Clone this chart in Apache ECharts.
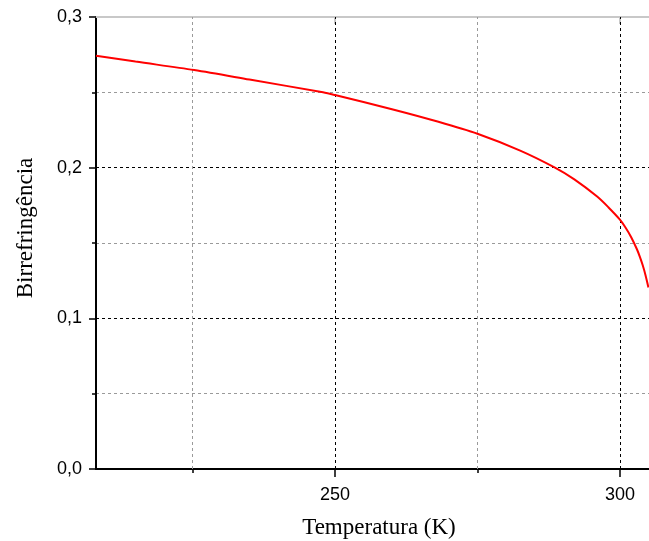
<!DOCTYPE html>
<html>
<head>
<meta charset="utf-8">
<script src="https://cdn.jsdelivr.net/npm/echarts@6/dist/echarts.min.js"></script>
<style>
  html, body { margin: 0; padding: 0; background: #fff; }
  #chart { width: 649px; height: 541px; }
</style>
</head>
<body>
<div id="chart"></div>
<script>
// Birefringence versus temperature
const temperatures = [208.07, 215, 225.3, 235, 247.9, 250, 260, 268, 275, 282.5, 288.6, 292, 296, 298, 300, 301, 302, 303, 303.5, 304, 304.5, 305.0];
const birefringence = [0.2743, 0.2704, 0.2648, 0.2585, 0.2500, 0.2482, 0.2388, 0.2306, 0.2225, 0.2113, 0.2000, 0.1922, 0.1808, 0.1736, 0.1655, 0.1601, 0.1537, 0.1457, 0.1408, 0.1352, 0.1285, 0.1205];

const xRange = [208.07, 305.1];
const xMajorTicks = [250, 300];
const xMinorTicks = [225, 275];
const yRange = [0, 0.3];
const yStep = 0.1;

const xTitle = 'Temperatura (K)';
const yTitle = 'Birrefringência';

const fmt = v => v.toFixed(1).replace('.', ',');
const labelFont = { fontFamily: '"Liberation Sans", Arial, sans-serif', fontSize: 18, color: '#000' };
const titleFont = { fontFamily: '"Liberation Serif", "Times New Roman", serif', fontSize: 23, color: '#000' };

const chart = echarts.init(document.getElementById('chart'), null, { renderer: 'canvas' });

const gridLines = [
  ...xMajorTicks.map(v => ({ xAxis: v, lineStyle: { color: '#000', type: [3, 3], width: 1 } })),
  ...xMinorTicks.map(v => ({ xAxis: v, lineStyle: { color: '#9a9a9a', type: [3, 3], width: 1 } }))
];

chart.setOption({
  animation: false,
  backgroundColor: '#fff',
  grid: { left: 96, right: 0, top: 17, bottom: 72, containLabel: false, outerBoundsMode: 'none' },
  xAxis: [
    {
      type: 'value', position: 'bottom', min: xRange[0], max: xRange[1],
      name: xTitle, nameLocation: 'middle', nameGap: 47,
      nameTextStyle: Object.assign({ padding: [0, 0, 0, 13] }, titleFont),
      axisLine: { show: true, onZero: false, lineStyle: { color: '#000', width: 2 } },
      axisTick: { show: true, inside: false, length: 8, customValues: xMajorTicks, lineStyle: { color: '#000', width: 1.5 } },
      axisLabel: Object.assign({ customValues: xMajorTicks, margin: 17, formatter: v => String(v) }, labelFont),
      splitLine: { show: false }
    },
    {
      type: 'value', position: 'bottom', min: xRange[0], max: xRange[1],
      axisLine: { show: false },
      axisTick: { show: true, inside: false, length: 4, customValues: xMinorTicks, lineStyle: { color: '#000', width: 1.5 } },
      axisLabel: { show: false },
      splitLine: { show: false }
    },
    {
      type: 'value', position: 'top', min: xRange[0], max: xRange[1],
      axisLine: { show: true, onZero: false, lineStyle: { color: '#c8c8c8', width: 2 } },
      axisTick: { show: true, inside: true, length: 7, customValues: xMajorTicks, lineStyle: { color: '#c8c8c8', width: 2 } },
      axisLabel: { show: false },
      splitLine: { show: false }
    }
  ],
  yAxis: {
    type: 'value', min: yRange[0], max: yRange[1], interval: yStep,
    name: yTitle, nameLocation: 'middle', nameGap: 59,
    nameTextStyle: Object.assign({ padding: [0, 0, 0, 30] }, titleFont),
    axisLine: { show: true, onZero: false, lineStyle: { color: '#000', width: 2 } },
    axisTick: { show: true, inside: false, length: 7, lineStyle: { color: '#000', width: 1.5 } },
    minorTick: { show: true, splitNumber: 2, length: 4, lineStyle: { color: '#000', width: 1.5 } },
    axisLabel: Object.assign({ margin: 14, formatter: v => fmt(v) }, labelFont),
    splitLine: { show: true, lineStyle: { color: ['transparent', '#000', '#000', 'transparent'], type: [3, 3], width: 1 } },
    minorSplitLine: { show: true, lineStyle: { color: '#9a9a9a', type: [3, 3], width: 1 } }
  },
  series: [
    {
      type: 'line', xAxisIndex: 0, data: [], silent: true, z: 1,
      markLine: { silent: true, symbol: ['none', 'none'], label: { show: false }, data: gridLines, animation: false }
    },
    {
      type: 'line', xAxisIndex: 0, z: 5,
      data: temperatures.map((t, i) => [t, birefringence[i]]),
      showSymbol: false, smooth: 0.3,
      lineStyle: { color: '#ff0000', width: 2 },
      clip: true
    }
  ]
});
</script>
</body>
</html>
